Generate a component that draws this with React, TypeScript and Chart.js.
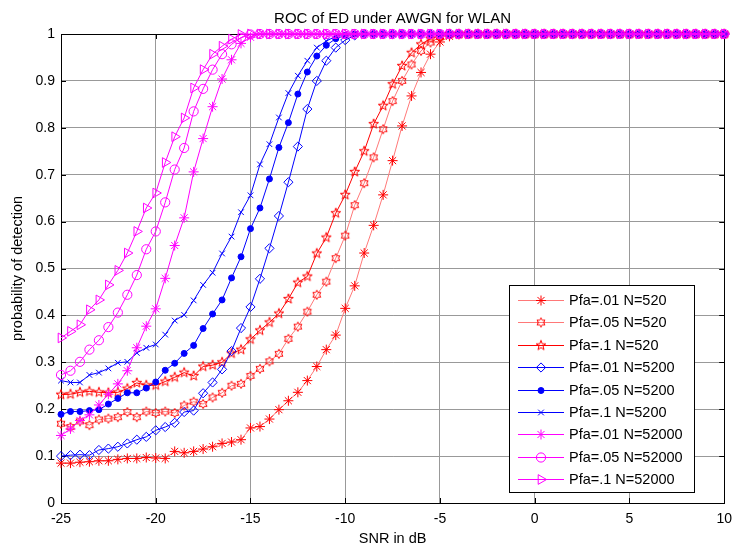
import React, { useEffect, useRef } from 'react';
import { Chart, registerables } from 'chart.js';
import { drawPoint } from 'chart.js/helpers';

Chart.register(...registerables);

const SNR = [
  -25, -24.5, -24, -23.5, -23, -22.5, -22, -21.5, -21, -20.5,
  -20, -19.5, -19, -18.5, -18, -17.5, -17, -16.5, -16, -15.5,
  -15, -14.5, -14, -13.5, -13, -12.5, -12, -11.5, -11, -10.5,
  -10, -9.5, -9, -8.5, -8, -7.5, -7, -6.5, -6, -5.5,
  -5, -4.5, -4, -3.5, -3, -2.5, -2, -1.5, -1, -0.5,
  0, 0.5, 1, 1.5, 2, 2.5, 3, 3.5, 4, 4.5,
  5, 5.5, 6, 6.5, 7, 7.5, 8, 8.5, 9, 9.5,
  10,
];

const pd_pfa01_n520 = [
  0.085, 0.085, 0.087, 0.088, 0.090, 0.090, 0.093, 0.095, 0.095, 0.097,
  0.096, 0.095, 0.110, 0.107, 0.110, 0.115, 0.120, 0.127, 0.130, 0.135,
  0.160, 0.163, 0.179, 0.199, 0.218, 0.236, 0.261, 0.291, 0.327, 0.358,
  0.415, 0.463, 0.533, 0.592, 0.657, 0.730, 0.804, 0.868, 0.918, 0.957,
  0.983, 0.995, 0.999, 1, 1, 1, 1, 1, 1, 1,
  1, 1, 1, 1, 1, 1, 1, 1, 1, 1,
  1, 1, 1, 1, 1, 1, 1, 1, 1, 1,
  1,
];

const pd_pfa05_n520 = [
  0.169, 0.162, 0.174, 0.166, 0.178, 0.180, 0.183, 0.194, 0.183, 0.195,
  0.192, 0.195, 0.192, 0.208, 0.216, 0.211, 0.225, 0.235, 0.250, 0.254,
  0.271, 0.286, 0.302, 0.318, 0.350, 0.376, 0.408, 0.444, 0.472, 0.522,
  0.570, 0.635, 0.682, 0.737, 0.797, 0.857, 0.900, 0.935, 0.964, 0.982,
  0.994, 0.999, 1, 1, 1, 1, 1, 1, 1, 1,
  1, 1, 1, 1, 1, 1, 1, 1, 1, 1,
  1, 1, 1, 1, 1, 1, 1, 1, 1, 1,
  1,
];

const pd_pfa1_n520 = [
  0.231, 0.232, 0.236, 0.238, 0.236, 0.235, 0.236, 0.244, 0.256, 0.251,
  0.251, 0.259, 0.268, 0.278, 0.271, 0.291, 0.294, 0.300, 0.319, 0.327,
  0.349, 0.368, 0.385, 0.404, 0.435, 0.470, 0.483, 0.532, 0.566, 0.618,
  0.657, 0.706, 0.750, 0.808, 0.847, 0.893, 0.932, 0.960, 0.978, 0.990,
  0.997, 1, 1, 1, 1, 1, 1, 1, 1, 1,
  1, 1, 1, 1, 1, 1, 1, 1, 1, 1,
  1, 1, 1, 1, 1, 1, 1, 1, 1, 1,
  1,
];

const pd_pfa01_n5200 = [
  0.100, 0.102, 0.103, 0.102, 0.113, 0.116, 0.120, 0.127, 0.135, 0.141,
  0.155, 0.162, 0.171, 0.194, 0.197, 0.234, 0.257, 0.285, 0.324, 0.373,
  0.418, 0.478, 0.543, 0.612, 0.684, 0.760, 0.840, 0.900, 0.943, 0.971,
  0.987, 0.997, 1, 1, 1, 1, 1, 1, 1, 1,
  1, 1, 1, 1, 1, 1, 1, 1, 1, 1,
  1, 1, 1, 1, 1, 1, 1, 1, 1, 1,
  1, 1, 1, 1, 1, 1, 1, 1, 1, 1,
  1,
];

const pd_pfa05_n5200 = [
  0.189, 0.195, 0.195, 0.197, 0.199, 0.211, 0.223, 0.235, 0.235, 0.245,
  0.258, 0.283, 0.298, 0.319, 0.336, 0.372, 0.403, 0.433, 0.480, 0.525,
  0.585, 0.629, 0.691, 0.758, 0.811, 0.872, 0.919, 0.953, 0.976, 0.990,
  0.997, 1, 1, 1, 1, 1, 1, 1, 1, 1,
  1, 1, 1, 1, 1, 1, 1, 1, 1, 1,
  1, 1, 1, 1, 1, 1, 1, 1, 1, 1,
  1, 1, 1, 1, 1, 1, 1, 1, 1, 1,
  1,
];

const pd_pfa1_n5200 = [
  0.261, 0.257, 0.257, 0.273, 0.278, 0.287, 0.299, 0.301, 0.320, 0.331,
  0.338, 0.359, 0.389, 0.401, 0.432, 0.465, 0.491, 0.532, 0.568, 0.620,
  0.656, 0.722, 0.765, 0.822, 0.874, 0.911, 0.943, 0.971, 0.985, 0.995,
  1, 1, 1, 1, 1, 1, 1, 1, 1, 1,
  1, 1, 1, 1, 1, 1, 1, 1, 1, 1,
  1, 1, 1, 1, 1, 1, 1, 1, 1, 1,
  1, 1, 1, 1, 1, 1, 1, 1, 1, 1,
  1,
];

const pd_pfa01_n52000 = [
  0.144, 0.158, 0.176, 0.188, 0.209, 0.232, 0.254, 0.282, 0.331, 0.377,
  0.414, 0.479, 0.549, 0.608, 0.706, 0.777, 0.845, 0.904, 0.945, 0.980,
  0.993, 1, 1, 1, 1, 1, 1, 1, 1, 1,
  1, 1, 1, 1, 1, 1, 1, 1, 1, 1,
  1, 1, 1, 1, 1, 1, 1, 1, 1, 1,
  1, 1, 1, 1, 1, 1, 1, 1, 1, 1,
  1, 1, 1, 1, 1, 1, 1, 1, 1, 1,
  1,
];

const pd_pfa05_n52000 = [
  0.273, 0.282, 0.301, 0.327, 0.347, 0.375, 0.406, 0.444, 0.486, 0.541,
  0.579, 0.641, 0.711, 0.757, 0.835, 0.883, 0.924, 0.957, 0.978, 0.992,
  0.999, 1, 1, 1, 1, 1, 1, 1, 1, 1,
  1, 1, 1, 1, 1, 1, 1, 1, 1, 1,
  1, 1, 1, 1, 1, 1, 1, 1, 1, 1,
  1, 1, 1, 1, 1, 1, 1, 1, 1, 1,
  1, 1, 1, 1, 1, 1, 1, 1, 1, 1,
  1,
];

const pd_pfa1_n52000 = [
  0.352, 0.366, 0.380, 0.412, 0.433, 0.465, 0.496, 0.533, 0.579, 0.629,
  0.661, 0.726, 0.781, 0.821, 0.885, 0.924, 0.957, 0.974, 0.989, 0.999,
  1, 1, 1, 1, 1, 1, 1, 1, 1, 1,
  1, 1, 1, 1, 1, 1, 1, 1, 1, 1,
  1, 1, 1, 1, 1, 1, 1, 1, 1, 1,
  1, 1, 1, 1, 1, 1, 1, 1, 1, 1,
  1, 1, 1, 1, 1, 1, 1, 1, 1, 1,
  1,
];

const SERIES_LABELS = [
  'Pfa=.01 N=520', 'Pfa=.05 N=520', 'Pfa=.1 N=520',
  'Pfa=.01 N=5200', 'Pfa=.05 N=5200', 'Pfa=.1 N=5200',
  'Pfa=.01 N=52000', 'Pfa=.05 N=52000', 'Pfa=.1 N=52000',
];

const X_TICKS = [-25, -20, -15, -10, -5, 0, 5, 10];
const Y_TICKS = [0, 0.1, 0.2, 0.3, 0.4, 0.5, 0.6, 0.7, 0.8, 0.9, 1];

const FONT = '"Liberation Sans", Arial, Helvetica, sans-serif';

function starCanvas(points: number, outer: number, inner: number, color: string) {
  const size = Math.ceil(outer) * 2 + 4;
  const c = document.createElement('canvas');
  c.width = size;
  c.height = size;
  const g = c.getContext('2d')!;
  const cx = size / 2;
  const cy = size / 2;
  g.beginPath();
  for (let k = 0; k < points * 2; k++) {
    const r = k % 2 === 0 ? outer : inner;
    const a = -Math.PI / 2 + (k * Math.PI) / points;
    const px = cx + r * Math.cos(a);
    const py = cy + r * Math.sin(a);
    if (k === 0) g.moveTo(px, py);
    else g.lineTo(px, py);
  }
  g.closePath();
  g.strokeStyle = color;
  g.lineWidth = 1;
  g.stroke();
  return c;
}

export default function App() {
  const ref = useRef<HTMLCanvasElement | null>(null);

  useEffect(() => {
    if (!ref.current) return;
    const RED = '#ff0000';
    const LRED = '#ff7878';
    const BLUE = '#0000ff';
    const MAG = '#ff00ff';
    const hexagram = starCanvas(6, 4.6, 2.65, RED);
    const pentagram = starCanvas(5, 5.2, 2.1, RED);

    const seriesValues = [
      pd_pfa01_n520, pd_pfa05_n520, pd_pfa1_n520,
      pd_pfa01_n5200, pd_pfa05_n5200, pd_pfa1_n5200,
      pd_pfa01_n52000, pd_pfa05_n52000, pd_pfa1_n52000,
    ];
    const styles: any[] = [
      { line: LRED, mk: RED, ps: 'star', r: 5, bg: 'rgba(0,0,0,0)', rot: 0 },
      { line: LRED, mk: RED, ps: hexagram, r: 5, bg: 'rgba(0,0,0,0)', rot: 0 },
      { line: RED, mk: RED, ps: pentagram, r: 5, bg: 'rgba(0,0,0,0)', rot: 0 },
      { line: BLUE, mk: BLUE, ps: 'rectRot', r: 4.6, bg: 'rgba(0,0,0,0)', rot: 0 },
      { line: BLUE, mk: BLUE, ps: 'circle', r: 3, bg: BLUE, rot: 0 },
      { line: BLUE, mk: BLUE, ps: 'crossRot', r: 4, bg: 'rgba(0,0,0,0)', rot: 0 },
      { line: MAG, mk: MAG, ps: 'star', r: 5, bg: 'rgba(0,0,0,0)', rot: 0 },
      { line: MAG, mk: MAG, ps: 'circle', r: 4.6, bg: 'rgba(0,0,0,0)', rot: 0 },
      { line: MAG, mk: MAG, ps: 'triangle', r: 5.6, bg: 'rgba(0,0,0,0)', rot: 90 },
    ];

    const datasets = seriesValues.map((vals, i) => ({
      label: SERIES_LABELS[i],
      data: SNR.map((x, j) => ({ x, y: vals[j] })),
      order: seriesValues.length - i,
      borderColor: styles[i].line,
      borderWidth: 1,
      pointStyle: styles[i].ps,
      pointRadius: styles[i].r,
      pointRotation: styles[i].rot,
      pointBorderColor: styles[i].mk,
      pointBackgroundColor: styles[i].bg,
      pointBorderWidth: 1,
      tension: 0,
      fill: false,
      clip: false as any,
    }));

    const frame = {
      id: 'matlabFrame',
      beforeDatasetsDraw(chart: any) {
        const { ctx, chartArea } = chart;
        const { left, right, top, bottom } = chartArea;
        const xs = chart.scales.x;
        const ys = chart.scales.y;
        ctx.save();
        ctx.strokeStyle = '#000';
        ctx.lineWidth = 1;
        ctx.beginPath();
        ctx.rect(Math.round(left) + 0.5, Math.round(top) + 0.5, Math.round(right - left), Math.round(bottom - top));
        ctx.stroke();
        ctx.beginPath();
        X_TICKS.forEach((v) => {
          const p = Math.round(xs.getPixelForValue(v)) + 0.5;
          ctx.moveTo(p, bottom);
          ctx.lineTo(p, bottom - 5);
          ctx.moveTo(p, top);
          ctx.lineTo(p, top + 5);
        });
        Y_TICKS.forEach((v) => {
          const p = Math.round(ys.getPixelForValue(v)) + 0.5;
          ctx.moveTo(left, p);
          ctx.lineTo(left + 5, p);
          ctx.moveTo(right, p);
          ctx.lineTo(right - 5, p);
        });
        ctx.stroke();
        ctx.restore();
      },
    };

    const legend = {
      id: 'matlabLegend',
      afterDraw(chart: any) {
        const { ctx, chartArea } = chart;
        const w = 185;
        const h = 207;
        const x0 = Math.round(chartArea.right - 30 - w);
        const y0 = Math.round(chartArea.bottom - 11 - h);
        ctx.save();
        ctx.fillStyle = '#ffffff';
        ctx.fillRect(x0, y0, w, h);
        ctx.strokeStyle = '#000';
        ctx.lineWidth = 1;
        ctx.strokeRect(x0 + 0.5, y0 + 0.5, w, h);
        ctx.font = '14.5px ' + FONT;
        ctx.textBaseline = 'middle';
        ctx.textAlign = 'left';
        SERIES_LABELS.forEach((lab, i) => {
          const y = Math.round(y0 + 15 + i * 22.4) + 0.5;
          const s = styles[i];
          ctx.strokeStyle = s.line;
          ctx.lineWidth = 1;
          ctx.beginPath();
          ctx.moveTo(x0 + 9, y);
          ctx.lineTo(x0 + 55, y);
          ctx.stroke();
          ctx.strokeStyle = s.mk;
          ctx.fillStyle = s.bg;
          drawPoint(ctx, { pointStyle: s.ps, radius: s.r, rotation: s.rot, borderWidth: 1 } as any, x0 + 32, y);
          ctx.fillStyle = '#000';
          ctx.fillText(lab, x0 + 60, y);
        });
        ctx.restore();
      },
    };

    const chart = new Chart(ref.current, {
      type: 'line',
      data: { datasets },
      options: {
        responsive: false,
        maintainAspectRatio: false,
        animation: false,
        devicePixelRatio: 1,
        layout: { padding: { top: 0, left: 0, right: 8, bottom: 0 } },
        font: { family: FONT, size: 14 },
        plugins: {
          legend: { display: false },
          tooltip: { enabled: false },
          title: {
            display: true,
            fullSize: false,
            text: 'ROC of ED under AWGN for WLAN',
            color: '#000',
            font: { family: FONT, size: 15, weight: 'normal' },
            padding: { top: 9.5, bottom: 6.5 },
          },
        },
        scales: {
          x: {
            type: 'linear',
            min: -25,
            max: 10,
            afterFit: (s: any) => { s.height = 46; },
            afterBuildTicks: (s: any) => { s.ticks = X_TICKS.map((v) => ({ value: v })); },
            ticks: {
              color: '#000',
              font: { family: FONT, size: 14 },
              padding: 8,
              maxRotation: 0,
              callback: (v: any) => String(v),
            },
            grid: { color: '#999999', lineWidth: 1, drawTicks: false },
            border: { display: true, color: '#000', width: 1 },
            title: {
              display: true,
              text: 'SNR in dB',
              color: '#000',
              font: { family: FONT, size: 14.5 },
              padding: { top: 0, bottom: 1 },
            },
          },
          y: {
            type: 'linear',
            min: 0,
            max: 1,
            afterFit: (s: any) => { s.width = 61; },
            afterBuildTicks: (s: any) => { s.ticks = Y_TICKS.map((v) => ({ value: v })); },
            ticks: {
              color: '#000',
              font: { family: FONT, size: 14 },
              padding: 6,
              callback: (v: any) => String(Math.round(Number(v) * 10) / 10),
            },
            grid: { color: '#999999', lineWidth: 1, drawTicks: false },
            border: { display: true, color: '#000', width: 1 },
            title: {
              display: true,
              text: 'probability of detection',
              color: '#000',
              font: { family: FONT, size: 14.5 },
              padding: { top: 9.5, bottom: 0 },
            },
          },
        },
      },
      plugins: [frame, legend],
    } as any);

    return () => chart.destroy();
  }, []);

  return (
    <div style={{ position: 'fixed', left: 0, top: 0, width: 740, height: 549, background: '#fff' }}>
      <canvas ref={ref} width={740} height={549} style={{ width: 740, height: 549, display: 'block' }} />
    </div>
  );
}
